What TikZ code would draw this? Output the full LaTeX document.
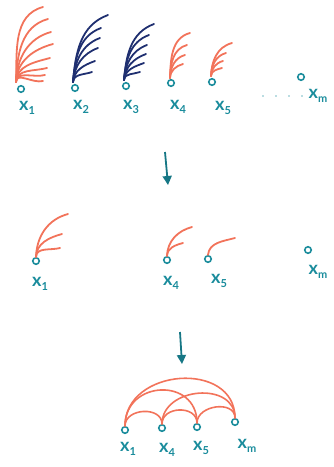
\documentclass[tikz,border=0pt]{standalone}
\usepackage{fontspec}
\setmainfont{Lato}
\usetikzlibrary{arrows.meta}
\definecolor{salm}{HTML}{F2735A}
\definecolor{navyc}{HTML}{1F2F70}
\definecolor{tealc}{HTML}{1A8C9C}
\newcommand\xlab[1]{x\raisebox{-4pt}{\fontsize{11}{11}\selectfont #1}}
\begin{document}
\begin{tikzpicture}[x=1pt,y=1pt,
  pt/.style={circle,draw=tealc,line width=1.6pt,inner sep=0pt,minimum size=6.5pt},
  lab/.style={text=tealc,font=\fontsize{18}{18}\selectfont\bfseries,inner sep=0pt},
  sfan/.style={draw=salm,line width=1.8pt,line cap=round},
  nfan/.style={draw=navyc,line width=1.8pt,line cap=round},
  arc/.style={draw=salm,line width=1.6pt,line cap=round},
  arr/.style={draw=tealc!85!black,line width=1.8pt,-{Triangle[length=9pt,width=9pt]}}]
\useasboundingbox (0,0) rectangle (334,-467);
% ---------- top row ----------
\node[pt] (a1) at (21,-89) {};
\node[pt] (a2) at (75,-88) {};
\node[pt] (a3) at (126,-86) {};
\node[pt] (a4) at (171,-83) {};
\node[pt] (a5) at (212,-82) {};
\node[pt] (am) at (301,-77) {};
\node[lab] (l1) at (27,-108) {\xlab{1}};
\node[lab] (l2) at (81,-107) {\xlab{2}};
\node[lab] (l3) at (131,-107) {\xlab{3}};
\node[lab] (l4) at (178,-107) {\xlab{4}};
\node[lab] (l5) at (223,-108) {\xlab{5}};
\node[lab] (lm) at (318,-96) {\xlab{m}};
\foreach \i/\x in {1/263,2/276,3/289,4/302}
  \fill[tealc!60] (\x,-96) circle (0.9pt);
\coordinate (b1) at (16,-82);
\foreach \ex/\ey [count=\i] in {43/7,48/19,51/32,53/44,50/58,47/68,45/75,43/81}{
  \coordinate (e1-\i) at (\ex,-\ey);
  \draw[sfan] (b1) to[out=88,in=195] (e1-\i);}
\coordinate (b2) at (73,-82);
\foreach \ex/\ey [count=\i] in {108/15,101/28,100/38,98/48,95/61,92/72}{
  \coordinate (e2-\i) at (\ex,-\ey);
  \draw[nfan] (b2) to[out=85,in=200] (e2-\i);}
\coordinate (b3) at (124,-80);
\foreach \ex/\ey [count=\i] in {154/24,149/35,147/45,146/54,144/63,140/72}{
  \coordinate (e3-\i) at (\ex,-\ey);
  \draw[nfan] (b3) to[out=85,in=200] (e3-\i);}
\coordinate (b4) at (170,-78);
\foreach \ex/\ey [count=\i] in {190/33,187/45,185/55,183/64}{
  \coordinate (e4-\i) at (\ex,-\ey);
  \draw[sfan] (b4) to[out=88,in=195] (e4-\i);}
\coordinate (b5) at (211,-76);
\foreach \ex/\ey [count=\i] in {232/43,226/53,223/61,222/68}{
  \coordinate (e5-\i) at (\ex,-\ey);
  \draw[sfan] (b5) to[out=88,in=195] (e5-\i);}
% ---------- arrow 1 ----------
\coordinate (t1) at (165,-152);
\coordinate (h1) at (168,-185);
\draw[arr] (t1) -- (h1);
% ---------- middle row ----------
\node[pt] (m1) at (36,-261) {};
\node[pt] (m4) at (167,-260) {};
\node[pt] (m5) at (208,-259) {};
\node[pt] (mm) at (308,-250) {};
\node[lab] (ml1) at (40,-284) {\xlab{1}};
\node[lab] (ml4) at (171,-283) {\xlab{4}};
\node[lab] (ml5) at (219,-281) {\xlab{5}};
\node[lab] (mlm) at (318,-272) {\xlab{m}};
\foreach \ex/\ey [count=\i] in {68/214,62/234,60/248}{
  \coordinate (f1-\i) at (\ex,-\ey);
  \draw[sfan] (m1.north) to[out=88,in=195] (f1-\i);}
\foreach \ex/\ey [count=\i] in {192/227,183/243}{
  \coordinate (f4-\i) at (\ex,-\ey);
  \draw[sfan] (m4.north) to[out=88,in=195] (f4-\i);}
\coordinate (f5-1) at (235,-238);
\draw[sfan] (m5.north) to[out=85,in=195] (f5-1);
% ---------- arrow 2 ----------
\coordinate (t2) at (180,-332);
\coordinate (h2) at (182,-364);
\draw[arr] (t2) -- (h2);
% ---------- bottom row ----------
\node[pt] (c1) at (125,-430) {};
\node[pt] (c4) at (162,-428) {};
\node[pt] (c5) at (197,-427) {};
\node[pt] (cm) at (235,-422) {};
\node[lab] (cl1) at (128,-449) {\xlab{1}};
\node[lab] (cl4) at (167,-450) {\xlab{4}};
\node[lab] (cl5) at (201,-448) {\xlab{5}};
\node[lab] (clm) at (247,-446) {\xlab{m}};
\draw[arc] (c1.north) .. controls +(0,58) and +(0,58) .. (cm.north);
\draw[arc] (c1.north) .. controls +(0,46) and +(0,46) .. (c5.north);
\draw[arc] (c4.north) .. controls +(0,37) and +(0,37) .. (cm.north);
\draw[arc] (c1.north) .. controls +(0,18) and +(0,18) .. (c4.north);
\draw[arc] (c4.north) .. controls +(0,18) and +(0,18) .. (c5.north);
\draw[arc] (c5.north) .. controls +(0,18) and +(0,18) .. (cm.north);
\end{tikzpicture}
\end{document}
